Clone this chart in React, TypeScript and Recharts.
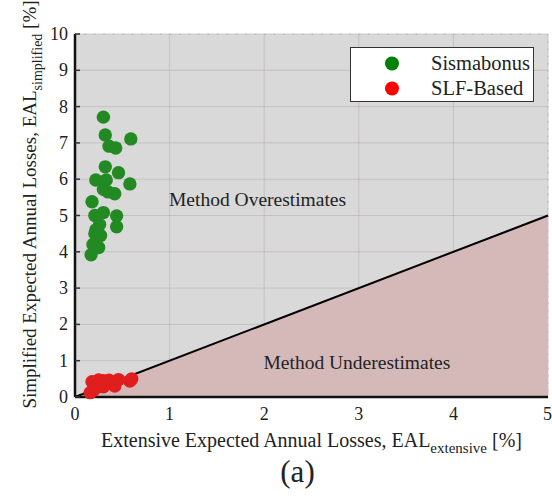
import React from "react";
import {
  ComposedChart,
  Scatter,
  Area,
  XAxis,
  YAxis,
  CartesianGrid,
  Legend,
  Label,
  ReferenceDot
} from "recharts";

const FONT = "'Liberation Serif', 'Times New Roman', serif";

// Sismabonus estimates (EAL extensive vs simplified, %)
const SISMABONUS = [
  { x: 0.3, y: 7.71 },
  { x: 0.32, y: 7.22 },
  { x: 0.59, y: 7.11 },
  { x: 0.36, y: 6.91 },
  { x: 0.43, y: 6.86 },
  { x: 0.32, y: 6.34 },
  { x: 0.46, y: 6.18 },
  { x: 0.22, y: 5.98 },
  { x: 0.33, y: 5.98 },
  { x: 0.58, y: 5.87 },
  { x: 0.3, y: 5.72 },
  { x: 0.35, y: 5.65 },
  { x: 0.42, y: 5.6 },
  { x: 0.18, y: 5.38 },
  { x: 0.3, y: 5.08 },
  { x: 0.21, y: 5.0 },
  { x: 0.44, y: 4.99 },
  { x: 0.26, y: 4.75 },
  { x: 0.44, y: 4.69 },
  { x: 0.22, y: 4.6 },
  { x: 0.21, y: 4.5 },
  { x: 0.27, y: 4.45 },
  { x: 0.19, y: 4.2 },
  { x: 0.25, y: 4.12 },
  { x: 0.17, y: 3.92 }
];

// SLF-based estimates
const SLF_BASED = [
  { x: 0.18, y: 0.42 },
  { x: 0.25, y: 0.47 },
  { x: 0.3, y: 0.45 },
  { x: 0.36, y: 0.46 },
  { x: 0.46, y: 0.48 },
  { x: 0.58, y: 0.44 },
  { x: 0.6, y: 0.5 },
  { x: 0.42, y: 0.3 },
  { x: 0.3, y: 0.28 },
  { x: 0.27, y: 0.35 },
  { x: 0.22, y: 0.25 },
  { x: 0.2, y: 0.2 },
  { x: 0.16, y: 0.12 }
];

// y = x parity line
const PARITY = [
  { x: 0, y: 0 },
  { x: 5, y: 5 }
];

const X_TICKS = [0, 1, 2, 3, 4, 5];
const Y_TICKS = [0, 1, 2, 3, 4, 5, 6, 7, 8, 9, 10];
const X_MINOR = Array.from({ length: 51 }, (_, i) => i / 10);
const Y_MINOR = Array.from({ length: 51 }, (_, i) => i / 5);

const SERIES = [
  { name: "Sismabonus", color: "#008000" },
  { name: "SLF-Based", color: "#ff0000" }
];

const dot = (fill: string) => (p: any) => (
  <circle cx={p.cx} cy={p.cy} r={6.7} fill={fill} />
);

const LeftTick = (p: any) => (
  <g>
    <line x1={p.x + 7} x2={p.x + 12} y1={p.y} y2={p.y} stroke="#333" strokeWidth={1.5} />
    <text x={p.x} y={p.y} textAnchor="end" dominantBaseline="central" fontSize={18} fill="#222" fontFamily={FONT}>
      {p.payload.value}
    </text>
  </g>
);

const RightTick = (p: any) => (
  <line x1={p.x - 5} x2={p.x} y1={p.y} y2={p.y} stroke="#333" strokeWidth={1.5} />
);

const XTitle = (props: any) => {
  const vb = props.viewBox;
  const cx = vb.x + vb.width / 2;
  return (
    <g fontFamily={FONT} fill="#222">
      <text x={cx} y={vb.y + 50} textAnchor="middle" fontSize={20}>
        Extensive Expected Annual Losses, EAL
        <tspan fontSize={15} dy={6}>extensive</tspan>
        <tspan dy={-6}> [%]</tspan>
      </text>
      <text x={cx - 14} y={vb.y + 85} textAnchor="middle" fontSize={31}>
        (a)
      </text>
    </g>
  );
};

const YTitle = (props: any) => {
  const vb = props.viewBox;
  const cy = vb.y + vb.height / 2 - 11;
  return (
    <text
      x={36}
      y={cy}
      transform={`rotate(-90, 36, ${cy})`}
      textAnchor="middle"
      fontSize={19}
      fontFamily={FONT}
      fill="#222"
    >
      Simplified Expected Annual Losses, EAL
      <tspan fontSize={14} dy={6}>simplified</tspan>
      <tspan dy={-6}> [%]</tspan>
    </text>
  );
};

const LegendBox = () => (
  <div
    style={{
      width: 182,
      height: 53,
      background: "#fff",
      border: "1px solid #333",
      fontFamily: FONT,
      fontSize: 20.5,
      color: "#222",
      boxSizing: "content-box"
    }}
  >
    {SERIES.map((s, i) => (
      <div key={s.name} style={{ display: "flex", alignItems: "center", height: 25, marginTop: i === 0 ? 3 : 0 }}>
        <svg width={80} height={25}>
          <circle cx={41} cy={12.5} r={7} fill={s.color} />
        </svg>
        <span>{s.name}</span>
      </div>
    ))}
  </div>
);

export default function App() {
  return (
    <div style={{ position: "absolute", left: 0, top: 0 }}>
      <ComposedChart
        width={552}
        height={496}
        margin={{ top: 34, right: 4, bottom: 0, left: 0 }}
        style={{ fontFamily: FONT }}
      >
        <XAxis xAxisId="mx" type="number" domain={[0, 5]} ticks={X_MINOR} hide />
        <YAxis yAxisId="my" type="number" domain={[0, 10]} ticks={Y_MINOR} hide />
        <CartesianGrid xAxisId={0} yAxisId={0} fill="#d9d9d9" stroke="none" />
        <CartesianGrid
          xAxisId="mx"
          yAxisId="my"
          horizontal={false}
          stroke="#8c8c8c"
          strokeOpacity={0.55}
          strokeDasharray="1.5 5.76"
        />
        <CartesianGrid
          xAxisId="mx"
          yAxisId="my"
          vertical={false}
          stroke="#8c8c8c"
          strokeOpacity={0.55}
          strokeDasharray="1.5 7.96"
        />
        <Area
          data={PARITY}
          dataKey="y"
          type="linear"
          stroke="#000"
          strokeWidth={2}
          fill="#d5b9b9"
          fillOpacity={1}
          isAnimationActive={false}
        />
        <CartesianGrid xAxisId={0} yAxisId={0} stroke="#b9b0b0" strokeOpacity={0.6} fill="none" />
        <XAxis
          dataKey="x"
          type="number"
          domain={[0, 5]}
          ticks={X_TICKS}
          height={99}
          tickSize={0}
          tickMargin={10}
          tickLine={false}
          axisLine={{ stroke: "#111", strokeWidth: 2.5 }}
          tick={{ fontSize: 18, fill: "#222", fontFamily: FONT }}
        >
          <Label content={XTitle} />
        </XAxis>
        <YAxis
          dataKey="y"
          type="number"
          domain={[0, 10]}
          ticks={Y_TICKS}
          width={75}
          tickSize={0}
          tickMargin={7}
          tickLine={false}
          axisLine={{ stroke: "#111", strokeWidth: 2.5 }}
          tick={LeftTick}
        >
          <Label content={YTitle} />
        </YAxis>
        <XAxis xAxisId="t" orientation="top" type="number" domain={[0, 5]} height={0} tick={false} tickLine={false} axisLine={{ stroke: "#333", strokeWidth: 1.5 }} />
        <YAxis
          yAxisId="r"
          orientation="right"
          type="number"
          domain={[0, 10]}
          ticks={Y_TICKS}
          width={0}
          tickSize={0}
          tickMargin={0}
          tickLine={false}
          tick={RightTick}
          axisLine={{ stroke: "#555", strokeWidth: 1 }}
        />
        <Scatter name={SERIES[0].name} data={SISMABONUS} dataKey="y" fill="#238a23" shape={dot("#238a23")} isAnimationActive={false} />
        <Scatter name={SERIES[1].name} data={SLF_BASED} dataKey="y" fill="#e01e1e" shape={dot("#e01e1e")} isAnimationActive={false} />
        <ReferenceDot
          x={1.93}
          y={5.45}
          r={0}
          label={{ value: "Method Overestimates", position: "center", fontSize: 19.5, fill: "#222", fontFamily: FONT }}
        />
        <ReferenceDot
          x={2.98}
          y={0.96}
          r={0}
          label={{ value: "Method Underestimates", position: "center", fontSize: 19.5, fill: "#222", fontFamily: FONT }}
        />
        <Legend
          layout="horizontal"
          verticalAlign="middle"
          align="center"
          content={LegendBox}
          wrapperStyle={{ position: "absolute", left: 350, top: 47, width: 184 }}
        />
      </ComposedChart>
    </div>
  );
}
